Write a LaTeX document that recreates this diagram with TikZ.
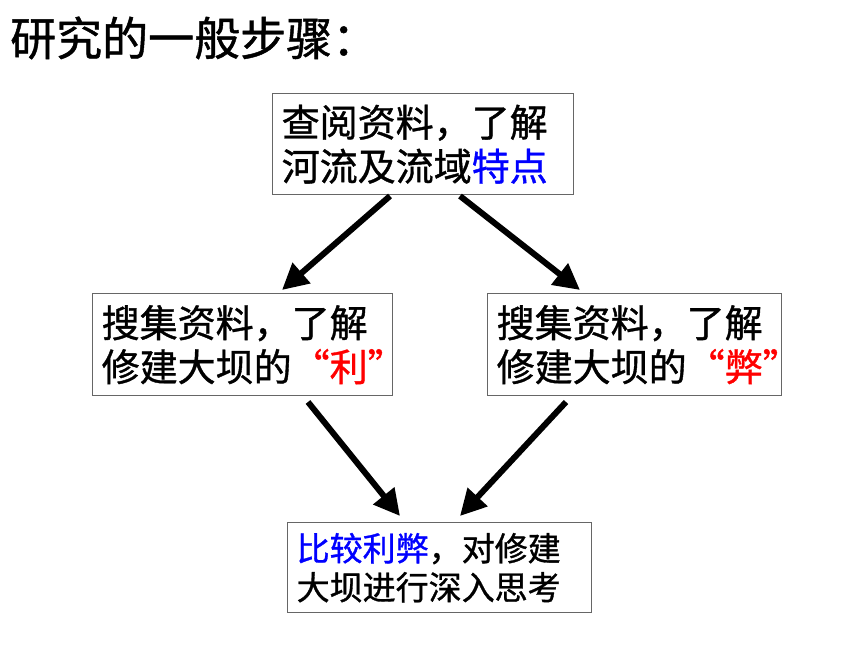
\documentclass[tikz,border=0pt]{standalone}
\usepackage{fontspec}
\setmainfont{Noto Sans CJK SC}[FakeBold=1.0]
\usetikzlibrary{arrows.meta}
\definecolor{boxgray}{HTML}{666666}
\definecolor{hlblue}{HTML}{0000FF}
\definecolor{hlred}{HTML}{FF0000}
\tikzset{
  stepbox/.style={draw=boxgray, line width=1.4pt, rectangle, align=left, inner xsep=9pt, inner ysep=0pt,
    font=\fontsize{38}{44}\selectfont, anchor=north west},
  bigarrow/.style={line width=6pt, -{Triangle[length=26pt,width=26pt]}, shorten >=0pt},
}
\begin{document}
\begin{tikzpicture}[x=1pt,y=-1pt]
\useasboundingbox (0,0) rectangle (860,645);
\node[anchor=west, font=\fontsize{46}{50}\selectfont, inner sep=0pt] (title) at (10,38) {研究的一般步骤：};
\node[stepbox, minimum width=301pt, minimum height=101pt, text width=283pt] (top) at (272,93)
  {查阅资料，了解\\河流及流域\textcolor{hlblue}{特点}};
\node[stepbox, minimum width=300pt, minimum height=102pt, text width=282pt] (left) at (92,293)
  {搜集资料，了解\\修建大坝的\textcolor{hlred}{“利”}};
\node[stepbox, minimum width=294pt, minimum height=102pt, text width=276pt] (right) at (487,293)
  {搜集资料，了解\\修建大坝的\textcolor{hlred}{“弊”}};
\node[stepbox, minimum width=304pt, minimum height=90pt, text width=286pt, font=\fontsize{33}{39}\selectfont] (bot) at (287,522)
  {\textcolor{hlblue}{比较利弊}，对修建\\大坝进行深入思考};
\coordinate (a1s) at (390,196);
\coordinate (a1e) at (282,290);
\coordinate (a2s) at (460,196);
\coordinate (a2e) at (580,290);
\coordinate (a3s) at (308,402);
\coordinate (a3e) at (400,516);
\coordinate (a4s) at (566,402);
\coordinate (a4e) at (460,516);
\draw[bigarrow] (a1s) -- (a1e);
\draw[bigarrow] (a2s) -- (a2e);
\draw[bigarrow] (a3s) -- (a3e);
\draw[bigarrow] (a4s) -- (a4e);
\end{tikzpicture}
\end{document}
